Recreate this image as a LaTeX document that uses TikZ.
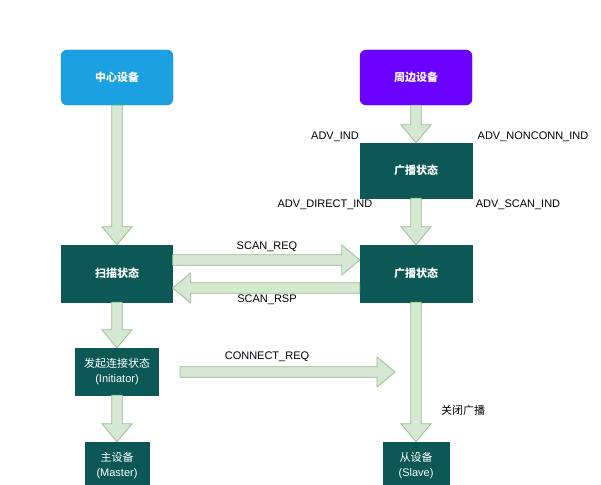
\documentclass[tikz,border=0pt]{standalone}
\usepackage{fontspec}
\setmainfont{Liberation Sans}
\newfontfamily\cjk{Noto Sans CJK SC}
\usetikzlibrary{calc}
\definecolor{devblue}{HTML}{1BA1E2}
\definecolor{devblueline}{HTML}{1A8CC8}
\definecolor{devpurple}{HTML}{6A00FF}
\definecolor{devpurpleline}{HTML}{5A00D8}
\definecolor{stateteal}{HTML}{0B5856}
\definecolor{arrowfill}{HTML}{D5E8D4}
\definecolor{arrowline}{HTML}{9DBF8C}
\tikzset{
  box/.style={rectangle,inner sep=0pt,align=center,text=white,
    font=\fontsize{11}{15}\selectfont},
  devbox/.style={box,minimum width=112pt,minimum height=55pt,rounded corners=6pt},
  statebox/.style={box,fill=stateteal,draw=stateteal},
  msg/.style={font=\fontsize{11}{13}\selectfont,text=black},
  flex/.style={draw=arrowline,fill=arrowfill,line width=0.8pt,line join=miter}
}
% breiter Pfeil von #1 nach #2
\newcommand\flexarrow[2]{%
  \path ($(#2)!18pt!(#1)$) coordinate (fa-h);
  \draw[flex] ($(#1)!5.3pt!-90:(#2)$) -- ($(fa-h)!5.3pt!90:(#1)$)
    -- ($(fa-h)!15pt!90:(#1)$) -- (#2) -- ($(fa-h)!15pt!-90:(#1)$)
    -- ($(fa-h)!5.3pt!-90:(#1)$) -- ($(#1)!5.3pt!90:(#2)$) -- cycle;}
\begin{document}
\begin{tikzpicture}[x=1pt,y=-1pt]
  \useasboundingbox[fill=white] (0,0) rectangle (601,484);
  % Geraete
  \node[devbox,fill=devblue,draw=devblueline] (center) at (117,77.5) {\cjk\bfseries 中心设备};
  \node[devbox,fill=devpurple,draw=devpurpleline] (periph) at (416,77.5) {\cjk\bfseries 周边设备};
  % Zustaende
  \node[statebox,minimum width=112pt,minimum height=55pt] (adv1) at (416,170.5) {\cjk\bfseries 广播状态};
  \node[statebox,minimum width=111pt,minimum height=57pt] (scan) at (117,273.5) {\cjk\bfseries 扫描状态};
  \node[statebox,minimum width=112pt,minimum height=57pt] (adv2) at (416,273.5) {\cjk\bfseries 广播状态};
  \node[statebox,minimum width=83pt,minimum height=47pt] (init) at (117,371.5) {{\cjk 发起连接状态}\\(Initiator)};
  \node[statebox,minimum width=64pt,minimum height=46pt] (master) at (117,465) {{\cjk 主设备}\\(Master)};
  \node[statebox,minimum width=66pt,minimum height=46pt] (slave) at (416,465) {{\cjk 从设备}\\(Slave)};
  % Enden der waagrechten Pfeile
  \coordinate (reqs) at ([yshift=13.5pt]scan.east);
  \coordinate (reqe) at ([yshift=13.5pt]adv2.west);
  \coordinate (rsps) at ([yshift=-14.5pt]adv2.west);
  \coordinate (rspe) at ([yshift=-14.5pt]scan.east);
  \coordinate (creqs) at (180,372);
  \coordinate (creqe) at (395,372);
  % Pfeile
  \flexarrow{center.south}{scan.north}
  \flexarrow{periph.south}{adv1.north}
  \flexarrow{adv1.south}{adv2.north}
  \flexarrow{reqs}{reqe}
  \flexarrow{rsps}{rspe}
  \flexarrow{scan.south}{init.north}
  \flexarrow{init.south}{master.north}
  \flexarrow{adv2.south}{slave.north}
  \flexarrow{creqs}{creqe}
  % Beschriftungen
  \node[msg] (lind) at (335,137) {ADV\_IND};
  \node[msg] (lnonconn) at (533,137) {ADV\_NONCONN\_IND};
  \node[msg] (ldirect) at (325,205) {ADV\_DIRECT\_IND};
  \node[msg] (lscanind) at (518,205) {ADV\_SCAN\_IND};
  \node[msg] (lreq) at (267,247) {SCAN\_REQ};
  \node[msg] (lrsp) at (267,300) {SCAN\_RSP};
  \node[msg] (lcreq) at (267,357) {CONNECT\_REQ};
  \node[msg] (lclose) at (463,410) {\cjk 关闭广播};
\end{tikzpicture}
\end{document}
